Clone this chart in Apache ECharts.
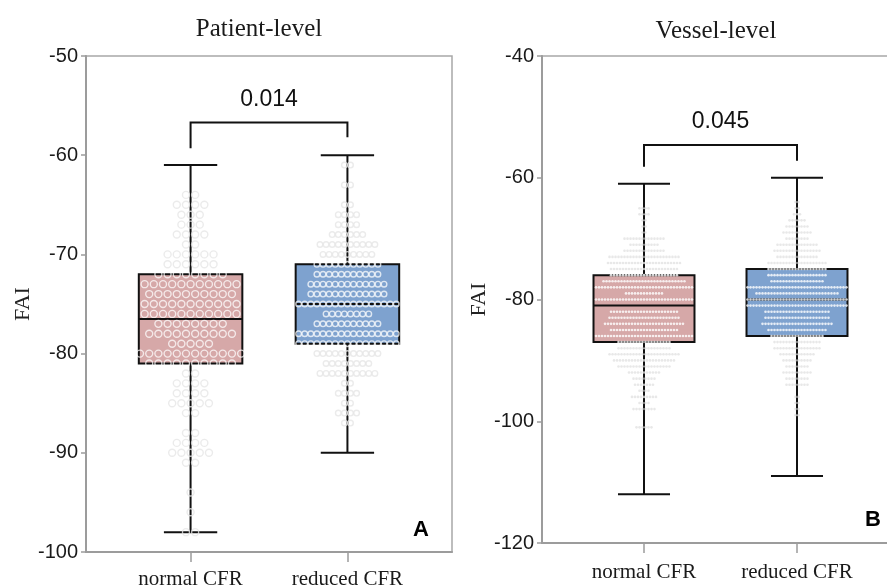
<!DOCTYPE html>
<html><head><meta charset="utf-8">
<script src="https://cdn.jsdelivr.net/npm/echarts@6/dist/echarts.min.js"></script>
<style>html,body{margin:0;padding:0;background:#fff}#c{width:887px;height:586px}</style>
</head><body><div id="c"></div>
<script>
// ---------------- data ----------------
const categories = ['normal CFR', 'reduced CFR'];
const catPositions = [1, 2];
const panelTitles = ['Patient-level', 'Vessel-level'];
const panelLetters = ['A', 'B'];
const pValues = ['0.014', '0.045'];

// y axis ranges [min, max, interval]
const patientYAxis = [-100, -50, 10];
const vesselYAxis = [-120, -40, 20];

// box statistics [min, Q1, median, Q3, max]
const patientBoxes = [[-98, -81, -76.5, -72, -61], [-90, -79, -75, -71, -60]];
const vesselBoxes = [[-112, -87, -81, -76, -61], [-109, -86, -80, -75, -60]];

// significance brackets [yTop, yLeftEnd, yRightEnd]
const patientBracket = [-56.7, -59.3, -58.2];
const vesselBracket = [-54.6, -58.2, -57.2];

// dot-plot bins [FAI value, number of dots]
const patNormalDots = [[-64,2],[-65,4],[-66,3],[-67,3],[-68,4],[-69,2],[-70,6],[-71,6],[-72,8],
  [-73,11],[-74,10],[-75,11],[-76,11],[-77,8],[-78,10],[-79,5],[-80,12],[-81,10],
  [-82,2],[-83,4],[-84,4],[-85,5],[-86,2],[-88,2],[-89,4],[-90,5],[-91,2],[-94,1],[-96,1],[-98,2]];
const patReducedDots = [[-61,2],[-63,2],[-65,2],[-66,4],[-67,4],[-68,6],[-69,10],[-70,9],[-71,11],
  [-72,11],[-73,13],[-74,13],[-75,17],[-76,8],[-77,11],[-78,17],[-79,17],
  [-80,11],[-81,8],[-82,10],[-83,2],[-84,4],[-85,2],[-86,4],[-87,2]];
const vesNormalDots = [[-65,4],[-66,4],[-67,2],[-68,2],[-69,2],[-70,14],[-71,10],[-72,14],[-73,24],[-74,25],[-75,23],
  [-76,23],[-77,28],[-78,33],[-79,13],[-80,33],[-82,23],[-83,24],[-84,27],[-85,23],[-86,33],[-87,18],
  [-88,18],[-89,24],[-90,21],[-91,18],[-92,11],[-93,8],[-94,7],[-95,4],[-96,9],[-97,4],[-98,8],[-101,6]];
const vesReducedDots = [[-64,2],[-65,2],[-66,3],[-67,6],[-68,8],[-69,10],[-70,8],[-71,14],[-72,16],[-73,14],[-74,20],
  [-75,20],[-76,20],[-77,18],[-78,34],[-79,28],[-80,34],[-81,34],[-82,22],[-83,22],[-84,24],[-85,20],[-86,18],
  [-87,16],[-88,16],[-89,12],[-90,10],[-91,8],[-92,10],[-93,8],[-94,8],[-96,2],[-97,2],[-98,2],[-99,2]];

// ---------------- styles ----------------
const boxColors = ['#d6a8a8', '#7ea2cf'];
const AXIS_GRAY = '#9c9c9c';
const SERIF = '"Liberation Serif", "Times New Roman", serif';
const SANS = '"Liberation Sans", Arial, sans-serif';
const BOX_HW = 0.33, CAP_HW = 0.17;

function renderBox(params, api) {
  const x = api.value(0);
  const pMin = api.coord([x, api.value(1)]);
  const pQ1 = api.coord([x, api.value(2)]);
  const pMed = api.coord([x, api.value(3)]);
  const pQ3 = api.coord([x, api.value(4)]);
  const pMax = api.coord([x, api.value(5)]);
  const cx = pMin[0];
  const l = api.coord([x - BOX_HW, 0])[0], r = api.coord([x + BOX_HW, 0])[0];
  const cl = api.coord([x - CAP_HW, 0])[0], cr = api.coord([x + CAP_HW, 0])[0];
  const st = {stroke: '#111', lineWidth: 2};
  return {type: 'group', children: [
    {type: 'line', shape: {x1: cx, y1: pMax[1], x2: cx, y2: pQ3[1]}, style: st},
    {type: 'line', shape: {x1: cx, y1: pQ1[1], x2: cx, y2: pMin[1]}, style: st},
    {type: 'line', shape: {x1: cl, y1: pMax[1], x2: cr, y2: pMax[1]}, style: st},
    {type: 'line', shape: {x1: cl, y1: pMin[1], x2: cr, y2: pMin[1]}, style: st},
    {type: 'rect', shape: {x: l, y: pQ3[1], width: r - l, height: pQ1[1] - pQ3[1]},
      style: {fill: boxColors[params.dataIndex], stroke: '#111', lineWidth: 2}},
    {type: 'line', shape: {x1: l, y1: pMed[1], x2: r, y2: pMed[1]}, style: st}
  ]};
}

function renderBracket(pText) {
  return function (params, api) {
    const x1 = api.value(0), x2 = api.value(1);
    const top = api.value(2);
    const a = api.coord([x1, api.value(3)]);
    const b = api.coord([x1, top]);
    const c = api.coord([x2, top]);
    const d = api.coord([x2, api.value(4)]);
    return {type: 'group', children: [
      {type: 'polyline', shape: {points: [a, b, c, d]}, style: {stroke: '#111', lineWidth: 2, fill: null}},
      {type: 'text', x: (b[0] + c[0]) / 2, y: b[1] - 23,
        style: {text: pText, fill: '#111', fontSize: 23, fontFamily: SANS,
          align: 'center', verticalAlign: 'middle', textAlign: 'center', textVerticalAlign: 'middle'}}
    ]};
  };
}

function dotPoints(bins, center, step, box) {
  const inside = [], outside = [];
  bins.forEach(([y, n]) => {
    for (let i = 0; i < n; i++) {
      const x = center + (i - (n - 1) / 2) * step;
      (y <= box[3] && y >= box[1] ? inside : outside).push([x, y]);
    }
  });
  return {inside, outside};
}

function dotSeries(bins, idx, grid, step, box, size, ring) {
  const pts = dotPoints(bins, catPositions[idx], step, box);
  const mk = (data, col) => ({
    type: 'scatter', xAxisIndex: grid, yAxisIndex: grid, data, symbol: 'circle', symbolSize: size,
    silent: true, z: 3,
    itemStyle: ring ? {color: 'rgba(0,0,0,0)', borderColor: col, borderWidth: 1.4} : {color: col}
  });
  return [mk(pts.outside, ring ? '#e6e6e6' : '#e2e2e2'), mk(pts.inside, ring ? 'rgba(255,255,255,0.92)' : '#ffffff')];
}

function xAxisCfg(grid, margin) {
  return {
    type: 'value', gridIndex: grid, min: 1 / 3, max: 8 / 3, splitLine: {show: false},
    axisLine: {show: true, lineStyle: {color: AXIS_GRAY, width: 2}},
    axisTick: {show: true, customValues: catPositions, length: 10, lineStyle: {color: AXIS_GRAY, width: 1.5}},
    axisLabel: {customValues: catPositions, formatter: v => categories[Math.round(v) - 1] || '',
      margin: margin, fontFamily: SERIF, fontSize: 21, color: '#1a1a1a'}
  };
}
function yAxisCfg(grid, range, gap) {
  return {
    type: 'value', gridIndex: grid, min: range[0], max: range[1], interval: range[2],
    name: 'FAI', nameLocation: 'middle', nameGap: gap,
    nameTextStyle: {fontFamily: SERIF, fontSize: 22, color: '#222'},
    splitLine: {show: false},
    axisLine: {show: true, lineStyle: {color: AXIS_GRAY, width: 2}},
    axisTick: {show: true, length: 5, lineStyle: {color: AXIS_GRAY, width: 1.5}},
    axisLabel: {fontFamily: SANS, fontSize: 20, color: '#1a1a1a', margin: 8}
  };
}

const chart = echarts.init(document.getElementById('c'), null, {renderer: 'canvas'});
const series = [
  {type: 'custom', xAxisIndex: 0, yAxisIndex: 0, renderItem: renderBox, z: 2, silent: true,
    data: patientBoxes.map((b, i) => [catPositions[i], ...b])},
  {type: 'custom', xAxisIndex: 1, yAxisIndex: 1, renderItem: renderBox, z: 2, silent: true,
    data: vesselBoxes.map((b, i) => [catPositions[i], ...b])},
  ...dotSeries(patNormalDots, 0, 0, 0.0586, patientBoxes[0], 7, true),
  ...dotSeries(patReducedDots, 1, 0, 0.0389, patientBoxes[1], 5.6, true),
  ...dotSeries(vesNormalDots, 0, 1, 0.0196, vesselBoxes[0], 2.6, false),
  ...dotSeries(vesReducedDots, 1, 1, 0.0196, vesselBoxes[1], 2.6, false),
  {type: 'custom', xAxisIndex: 0, yAxisIndex: 0, renderItem: renderBracket(pValues[0]), z: 4, silent: true,
    data: [[catPositions[0], catPositions[1], ...patientBracket]]},
  {type: 'custom', xAxisIndex: 1, yAxisIndex: 1, renderItem: renderBracket(pValues[1]), z: 4, silent: true,
    data: [[catPositions[0], catPositions[1], ...vesselBracket]]}
];

chart.setOption({
  animation: false,
  backgroundColor: '#fff',
  grid: [
    {left: 86, top: 56, width: 366, height: 496, show: true, borderColor: '#a8a8a8', borderWidth: 1.5,
      backgroundColor: 'transparent', containLabel: false, outerBoundsMode: 'none'},
    {left: 542, top: 56, width: 357, height: 487, show: true, borderColor: '#a8a8a8', borderWidth: 1.5,
      backgroundColor: 'transparent', containLabel: false, outerBoundsMode: 'none'}
  ],
  xAxis: [xAxisCfg(0, 17), xAxisCfg(1, 19)],
  yAxis: [yAxisCfg(0, patientYAxis, 52), yAxisCfg(1, vesselYAxis, 43)],
  series: series,
  graphic: [
    {type: 'text', x: 259, y: 29, style: {text: panelTitles[0], fontSize: 25, fontFamily: SERIF, fill: '#1a1a1a', align: 'center', verticalAlign: 'middle', textAlign: 'center', textVerticalAlign: 'middle'}},
    {type: 'text', x: 716, y: 31, style: {text: panelTitles[1], fontSize: 25, fontFamily: SERIF, fill: '#1a1a1a', align: 'center', verticalAlign: 'middle', textAlign: 'center', textVerticalAlign: 'middle'}},
    {type: 'text', x: 421, y: 530, style: {text: panelLetters[0], fontSize: 22, fontWeight: 'bold', fontFamily: SANS, fill: '#000', align: 'center', verticalAlign: 'middle', textAlign: 'center', textVerticalAlign: 'middle'}},
    {type: 'text', x: 873, y: 520, style: {text: panelLetters[1], fontSize: 22, fontWeight: 'bold', fontFamily: SANS, fill: '#000', align: 'center', verticalAlign: 'middle', textAlign: 'center', textVerticalAlign: 'middle'}}
  ]
});
</script>
</body></html>
